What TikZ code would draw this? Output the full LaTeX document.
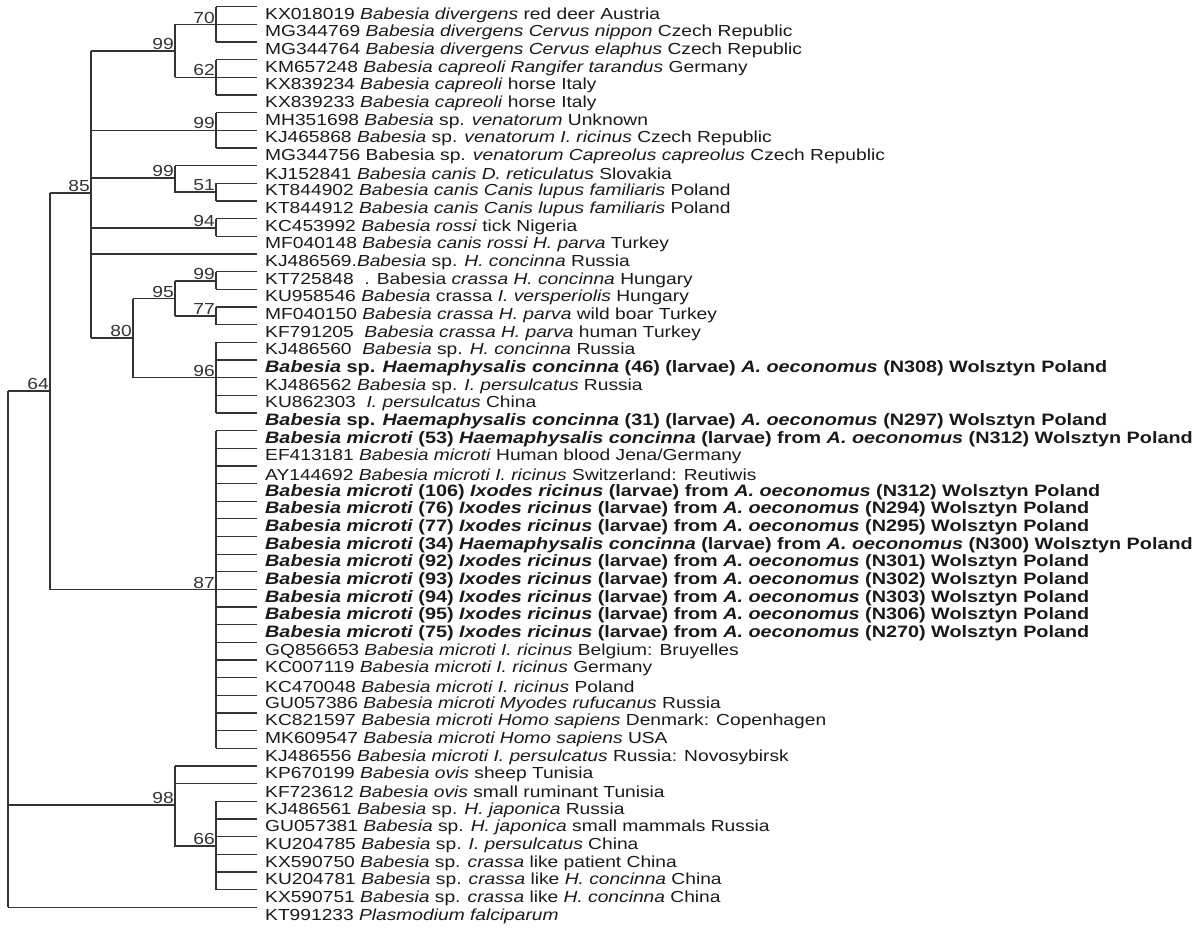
\documentclass[tikz,border=0pt]{standalone}
\usepackage{fontspec}
\setmainfont{Liberation Sans}[FakeStretch=1.2]
\begin{document}
\begin{tikzpicture}[x=1pt,y=-1pt,
  br/.style={draw=black!80,line width=1.3pt},
  lab/.style={anchor=west,inner sep=0pt,font=\fontsize{16}{16}\selectfont,text=black!90},
  bs/.style={anchor=south east,inner sep=1pt,font=\fontsize{16}{16}\selectfont,text=black!80}]
\useasboundingbox (0,0) rectangle (1200,931);
\newcommand\Yv[1]{{6.7+17.66*(#1-1)}}
\newcommand\leaf[2]{\coordinate (e#1) at (257,\Yv{#1});
  \node[lab] (t#1) at (265,{6.7+17.66*(#1-1)+8.5}) {#2};}
\newcommand\bleaf[2]{\coordinate (e#1) at (257,\Yv{#1});
  \node[lab,font=\fontsize{16.5}{16}\selectfont\bfseries] (t#1) at (265,{6.7+17.66*(#1-1)+8.5}) {#2};}
\newcommand\clade[3]{\draw[br] (#1,\Yv{#2}) -- (#1,\Yv{#3});
  \foreach \i in {#2,...,#3}{\draw[br] (#1,\Yv{\i}) -- (e\i);}}
\leaf{1}{KX018019 \textit{Babesia divergens} red deer Austria}
\leaf{2}{MG344769 \textit{Babesia divergens Cervus nippon} Czech Republic}
\leaf{3}{MG344764 \textit{Babesia divergens Cervus elaphus} Czech Republic}
\leaf{4}{KM657248 \textit{Babesia capreoli Rangifer tarandus} Germany}
\leaf{5}{KX839234 \textit{Babesia capreoli} horse Italy}
\leaf{6}{KX839233 \textit{Babesia capreoli} horse Italy}
\leaf{7}{MH351698 \textit{Babesia} sp. \textit{venatorum} Unknown}
\leaf{8}{KJ465868 \textit{Babesia} sp. \textit{venatorum I. ricinus} Czech Republic}
\leaf{9}{MG344756 Babesia sp. \textit{venatorum Capreolus capreolus} Czech Republic}
\leaf{10}{KJ152841 \textit{Babesia canis D. reticulatus} Slovakia}
\leaf{11}{KT844902 \textit{Babesia canis Canis lupus familiaris} Poland}
\leaf{12}{KT844912 \textit{Babesia canis Canis lupus familiaris} Poland}
\leaf{13}{KC453992 \textit{Babesia rossi} tick Nigeria}
\leaf{14}{MF040148 \textit{Babesia canis rossi H. parva} Turkey}
\leaf{15}{KJ486569.\textit{Babesia} sp. \textit{H. concinna} Russia}
\leaf{16}{KT725848 \ . Babesia \textit{crassa H. concinna} Hungary}
\leaf{17}{KU958546 \textit{Babesia} crassa \textit{I. versperiolis} Hungary}
\leaf{18}{MF040150 \textit{Babesia crassa H. parva} wild boar Turkey}
\leaf{19}{KF791205 \ \textit{Babesia crassa H. parva} human Turkey}
\leaf{20}{KJ486560 \ \textit{Babesia} sp. \textit{H. concinna} Russia}
\bleaf{21}{\textit{Babesia} sp. \textit{Haemaphysalis concinna} (46) (larvae) \textit{A. oeconomus} (N308) Wolsztyn Poland}
\leaf{22}{KJ486562 \textit{Babesia} sp. \textit{I. persulcatus} Russia}
\leaf{23}{KU862303 \ \textit{I. persulcatus} China}
\bleaf{24}{\textit{Babesia} sp. \textit{Haemaphysalis concinna} (31) (larvae) \textit{A. oeconomus} (N297) Wolsztyn Poland}
\bleaf{25}{\textit{Babesia microti} (53) \textit{Haemaphysalis concinna} (larvae) from \textit{A. oeconomus} (N312) Wolsztyn Poland}
\leaf{26}{EF413181 \textit{Babesia microti} Human blood Jena/Germany}
\leaf{27}{AY144692 \textit{Babesia microti I. ricinus} Switzerland: Reutiwis}
\bleaf{28}{\textit{Babesia microti} (106) \textit{Ixodes ricinus} (larvae) from \textit{A. oeconomus} (N312) Wolsztyn Poland}
\bleaf{29}{\textit{Babesia microti} (76) \textit{Ixodes ricinus} (larvae) from \textit{A. oeconomus} (N294) Wolsztyn Poland}
\bleaf{30}{\textit{Babesia microti} (77) \textit{Ixodes ricinus} (larvae) from \textit{A. oeconomus} (N295) Wolsztyn Poland}
\bleaf{31}{\textit{Babesia microti} (34) \textit{Haemaphysalis concinna} (larvae) from \textit{A. oeconomus} (N300) Wolsztyn Poland}
\bleaf{32}{\textit{Babesia microti} (92) \textit{Ixodes ricinus} (larvae) from \textit{A. oeconomus} (N301) Wolsztyn Poland}
\bleaf{33}{\textit{Babesia microti} (93) \textit{Ixodes ricinus} (larvae) from \textit{A. oeconomus} (N302) Wolsztyn Poland}
\bleaf{34}{\textit{Babesia microti} (94) \textit{Ixodes ricinus} (larvae) from \textit{A. oeconomus} (N303) Wolsztyn Poland}
\bleaf{35}{\textit{Babesia microti} (95) \textit{Ixodes ricinus} (larvae) from \textit{A. oeconomus} (N306) Wolsztyn Poland}
\bleaf{36}{\textit{Babesia microti} (75) \textit{Ixodes ricinus} (larvae) from \textit{A. oeconomus} (N270) Wolsztyn Poland}
\leaf{37}{GQ856653 \textit{Babesia microti I. ricinus} Belgium: Bruyelles}
\leaf{38}{KC007119 \textit{Babesia microti I. ricinus} Germany}
\leaf{39}{KC470048 \textit{Babesia microti I. ricinus} Poland}
\leaf{40}{GU057386 \textit{Babesia microti Myodes rufucanus} Russia}
\leaf{41}{KC821597 \textit{Babesia microti Homo sapiens} Denmark: Copenhagen}
\leaf{42}{MK609547 \textit{Babesia microti Homo sapiens} USA}
\leaf{43}{KJ486556 \textit{Babesia microti I. persulcatus} Russia: Novosybirsk}
\leaf{44}{KP670199 \textit{Babesia ovis} sheep Tunisia}
\leaf{45}{KF723612 \textit{Babesia ovis} small ruminant Tunisia}
\leaf{46}{KJ486561 \textit{Babesia} sp. \textit{H. japonica} Russia}
\leaf{47}{GU057381 \textit{Babesia} sp. \textit{H. japonica} small mammals Russia}
\leaf{48}{KU204785 \textit{Babesia} sp. \textit{I. persulcatus} China}
\leaf{49}{KX590750 \textit{Babesia} sp. \textit{crassa} like patient China}
\leaf{50}{KU204781 \textit{Babesia} sp. \textit{crassa} like \textit{H. concinna} China}
\leaf{51}{KX590751 \textit{Babesia} sp. \textit{crassa} like \textit{H. concinna} China}
\leaf{52}{KT991233 \textit{Plasmodium falciparum}}
% terminal clades
\clade{216}{1}{3}\clade{216}{4}{6}\clade{216}{7}{9}\clade{216}{11}{12}
\clade{216}{13}{14}\clade{216}{16}{17}\clade{216}{18}{19}\clade{216}{20}{24}
\clade{216}{25}{43}\clade{216}{46}{51}
% single leaves
\draw[br] (175,\Yv{10}) -- (e10);
\draw[br] (91,\Yv{15}) -- (e15);
\draw[br] (175,\Yv{44}) -- (e44);
\draw[br] (175,\Yv{45}) -- (e45);
\draw[br] (8,\Yv{52}) -- (e52);
% internal
\draw[br] (175,\Yv{2}) -- (175,\Yv{5}) (175,\Yv{2}) -- (216,\Yv{2}) (175,\Yv{5}) -- (216,\Yv{5});
\draw[br] (91,51) -- (175,51);
\draw[br] (91,\Yv{8}) -- (216,\Yv{8});
\draw[br] (175,\Yv{10}) -- (175,192) -- (216,192);
\draw[br] (91,178) -- (175,178);
\draw[br] (91,228) -- (216,228);
\draw[br] (175,281) -- (175,316) (175,281) -- (216,281) (175,316) -- (216,316);
\draw[br] (133,298.5) -- (175,298.5);
\draw[br] (133,298.5) -- (133,\Yv{22}) -- (216,\Yv{22});
\draw[br] (91,338) -- (133,338);
\draw[br] (91,51) -- (91,338);
\draw[br] (50,193) -- (91,193);
\draw[br] (50,193) -- (50,589.5) -- (216,589.5);
\draw[br] (8,391) -- (50,391);
\draw[br] (175,\Yv{44}) -- (175,846) -- (216,846);
\draw[br] (8,805) -- (175,805);
\draw[br] (8,391) -- (8,\Yv{52});
% bootstrap values
\node[bs] (b70) at (216,\Yv{2}) {70};
\node[bs] (b99a) at (175,51) {99};
\node[bs] (b62) at (216,\Yv{5}) {62};
\node[bs] (b99b) at (216,\Yv{8}) {99};
\node[bs] (b85) at (91,193) {85};
\node[bs] (b99c) at (175,178) {99};
\node[bs] (b51) at (216,192) {51};
\node[bs] (b94) at (216,228) {94};
\node[bs] (b99d) at (216,281) {99};
\node[bs] (b95) at (175,298.5) {95};
\node[bs] (b77) at (216,316) {77};
\node[bs] (b80) at (133,338) {80};
\node[bs] (b96) at (216,\Yv{22}) {96};
\node[bs] (b64) at (50,391) {64};
\node[bs] (b87) at (216,589.5) {87};
\node[bs] (b98) at (175,805) {98};
\node[bs] (b66) at (216,846) {66};
\end{tikzpicture}
\end{document}
